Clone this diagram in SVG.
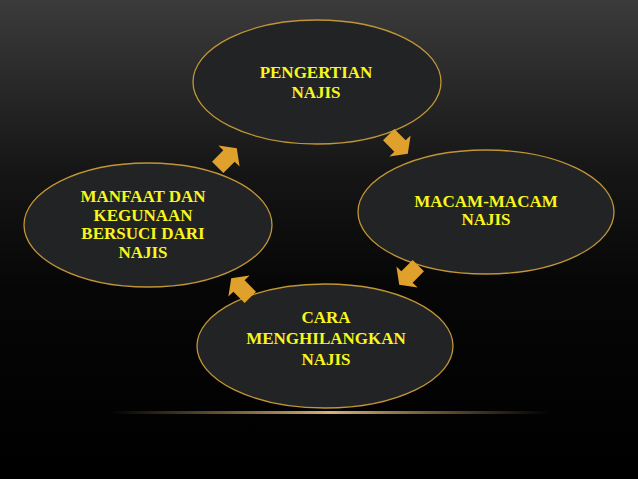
<svg xmlns="http://www.w3.org/2000/svg" width="638" height="479" viewBox="0 0 638 479">
<defs>
<linearGradient id="bg" x1="0" y1="0" x2="0" y2="1">
<stop offset="0" stop-color="#3b3b3b"/>
<stop offset="0.35" stop-color="#161616"/>
<stop offset="0.6" stop-color="#060606"/>
<stop offset="1" stop-color="#000000"/>
</linearGradient>
<linearGradient id="glow" x1="0" y1="0" x2="1" y2="0">
<stop offset="0" stop-color="#b8924a" stop-opacity="0"/>
<stop offset="0.5" stop-color="#d9b274" stop-opacity="1"/>
<stop offset="1" stop-color="#b8924a" stop-opacity="0"/>
</linearGradient>
<path id="arr" d="M-16,-8 L0,-8 L0,-15 L11,0 L0,15 L0,8 L-16,8 Z"/>
</defs>
<style>
.node ellipse{fill:#222325;stroke:#c09536;stroke-width:1.3}
.node text{fill:#f7f71e;font-family:"Liberation Serif","Times New Roman",serif;font-weight:bold;font-size:17px;text-anchor:middle}
.conn use{fill:#dfa12b}
</style>
<rect width="638" height="479" fill="url(#bg)"/>
<rect x="110" y="411" width="440" height="3" fill="url(#glow)"/>
<g id="n1" class="node">
<ellipse cx="317" cy="82" rx="124" ry="62"/>
<text x="316" y="78">PENGERTIAN</text>
<text x="316" y="98">NAJIS</text>
</g>
<g id="n2" class="node">
<ellipse cx="486" cy="212" rx="128" ry="62"/>
<text x="486" y="207">MACAM-MACAM</text>
<text x="486" y="225">NAJIS</text>
</g>
<g id="n3" class="node">
<ellipse cx="325" cy="346" rx="128" ry="62"/>
<text x="326" y="323">CARA</text>
<text x="326" y="344">MENGHILANGKAN</text>
<text x="326" y="365">NAJIS</text>
</g>
<g id="n4" class="node">
<ellipse cx="148" cy="225" rx="124" ry="62"/>
<text x="143" y="202">MANFAAT DAN</text>
<text x="143" y="220.5">KEGUNAAN</text>
<text x="143" y="239">BERSUCI DARI</text>
<text x="143" y="257.5">NAJIS</text>
</g>
<g id="connectors" class="conn">
<use href="#arr" transform="translate(229,156) rotate(-45)"/>
<use href="#arr" transform="translate(400,146) rotate(45)"/>
<use href="#arr" transform="translate(407,277) rotate(135)"/>
<use href="#arr" transform="translate(239,286) rotate(-135)"/>
</g>
</svg>
